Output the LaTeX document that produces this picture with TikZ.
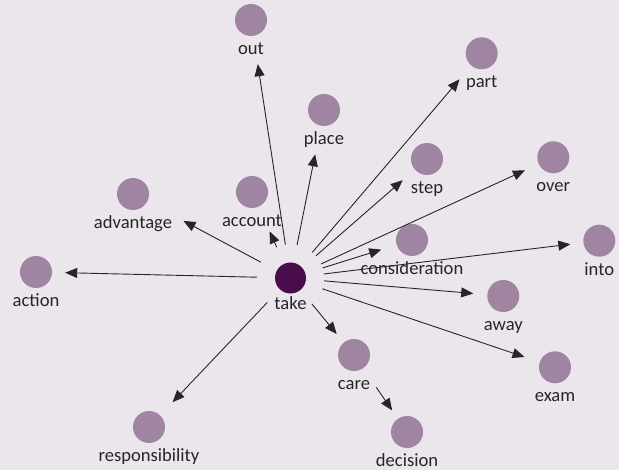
\documentclass[tikz,border=0pt]{standalone}
\usepackage{fontspec}
\setmainfont{Carlito}
\usetikzlibrary{shapes,arrows.meta,calc}
\definecolor{bg}{HTML}{EBE6EC}
\definecolor{dot}{HTML}{A085A3}
\definecolor{hubcol}{HTML}{4A0D4B}
\definecolor{ink}{HTML}{262626}
\tikzstyle{line} = [draw, ink, line width=0.9pt, -{Triangle[length=12pt,width=10pt]}, shorten <=18pt, shorten >=15pt]
\tikzstyle{word} = [circle, fill=dot, minimum size=32pt, inner sep=0pt]
\tikzstyle{hub} = [circle, fill=hubcol, minimum size=31pt, inner sep=0pt]
\tikzset{every label/.style={text=ink, inner sep=1pt, yshift=-3.5pt, text height=13.5pt, text depth=4pt, font=\fontsize{18.6}{20}\selectfont}}

\begin{document}
\begin{tikzpicture}[x=1pt, y=-1pt]
        \useasboundingbox (0,0) rectangle (619,470);
        \fill[bg] (0,0) rectangle (619,470);
        \node[hub, label={[yshift=2.5pt]below:take}] (take) at (290.5,278) {};
        \node[word, label=below:out] (out) at (251,20) {};
        \node[word, label=below:part] (part) at (481.7,53.3) {};
        \node[word, label=below:place] (place) at (324,110) {};
        \node[word, label=below:step] (step) at (427,159) {};
        \node[word, label=below:over] (over) at (553.3,157.3) {};
        \node[word, label=below:advantage] (advantage) at (133,194) {};
        \node[word, label=below:account] (account) at (252,192) {};
        \node[word, label=below:consideration] (consideration) at (412,240) {};
        \node[word, label=below:into] (into) at (599.3,240.7) {};
        \node[word, label=below:action] (action) at (36,272) {};
        \node[word, label=below:away] (away) at (503.3,296) {};
        \node[word, label=below:care] (care) at (354,355) {};
        \node[word, label=below:exam] (exam) at (555,367.3) {};
        \node[word, label=below:responsibility] (responsibility) at (149,427) {};
        \node[word, label=below:decision] (decision) at (407,432) {};
        \path[line, shorten >=28.5pt] (take) -- (out);
        \path[line, shorten >=18pt] (take) -- (part);
        \path[line, shorten >=29pt] (take) -- (place);
        \path[line, shorten >=16pt] (take) -- (step);
        \path[line] (take) -- (over);
        \path[line, shorten >=41pt] (take) -- (advantage);
        \path[line, shorten >=27pt] (take) -- (account);
        \path[line, shorten >=16pt] (take) -- (consideration);
        \path[line, shorten >=13pt] (take) -- (into);
        \path[line, shorten >=13pt] (take) -- (action);
        \path[line, shorten >=14pt] (take) -- (away);
        \path[line, shorten >=11pt] (take) -- (care);
        \path[line, shorten >=16pt] (take) -- (exam);
        \path[line, shorten >=18pt] (take) -- (responsibility);
        \path[line, shorten <=23pt, shorten >=10pt] (care) -- (decision);
\end{tikzpicture}
\end{document}
